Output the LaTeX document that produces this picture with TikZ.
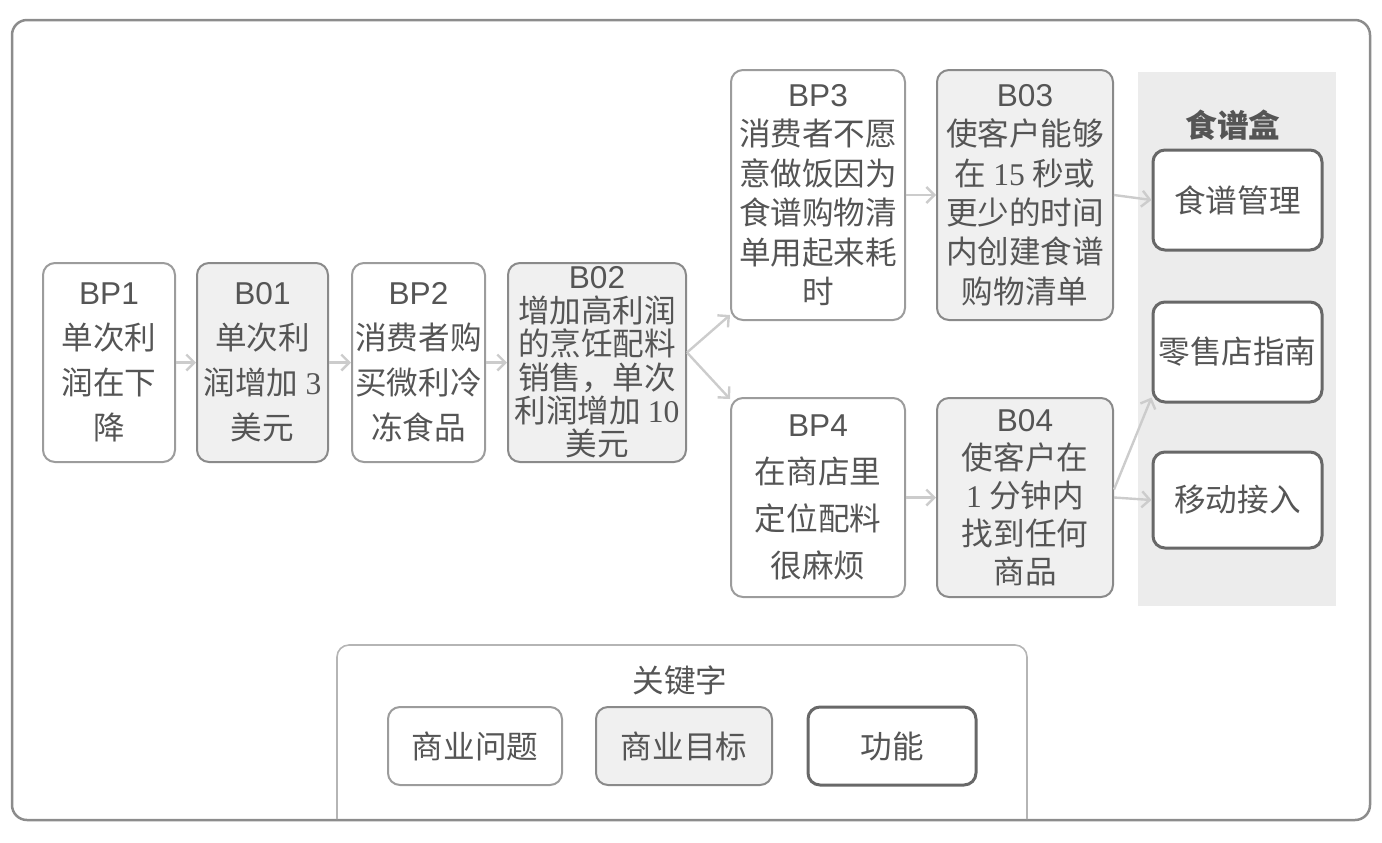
\documentclass[tikz,border=0pt]{standalone}
\usepackage{fontspec}
\newfontfamily\cjk{Noto Sans CJK SC}
\newfontfamily\lat{Liberation Sans}
\newfontfamily\ser{Liberation Serif}
\usetikzlibrary{arrows.meta}

\definecolor{ink}{HTML}{555555}
\definecolor{probline}{HTML}{9C9C9C}
\definecolor{goalline}{HTML}{8A8A8A}
\definecolor{goalfill}{HTML}{F0F0F0}
\definecolor{featline}{HTML}{686868}
\definecolor{framec}{HTML}{8C8C8C}
\definecolor{panelc}{HTML}{ECECEC}
\definecolor{keyline}{HTML}{B5B5B5}
\definecolor{arrowc}{HTML}{CCCCCC}

\newcommand\lab[1]{{\lat #1}}
\newcommand\dg[1]{{\ser #1}}

\tikzset{
  lead/.style={font=\cjk\fontsize{15.8}{#1}\selectfont},
  txt/.style={lead=22.5, text=ink, align=center, inner sep=0pt},
  probbox/.style={txt, draw=probline, line width=1pt, fill=white, rounded corners=6pt},
  goalbox/.style={txt, draw=goalline, line width=1pt, fill=goalfill, rounded corners=6pt},
  featbox/.style={txt, draw=featline, line width=1.5pt, fill=white, rounded corners=6pt},
  flow/.style={draw=arrowc, line width=1.2pt, -{Straight Barb[length=4pt,width=8pt]}},
}

\begin{document}
\begin{tikzpicture}[x=0.5pt, y=-0.5pt]
\useasboundingbox (0,0) rectangle (1382,842);

% outer frame
\draw[framec, line width=1.25pt, rounded corners=7.5pt] (12,20) rectangle (1370,820);

% feature panel
\fill[panelc] (1138,72) rectangle (1336,606);
\node[txt, font=\cjk\bfseries\fontsize{15.8}{20}\selectfont] (panel) at (1233,125) {食谱盒};

% main chain
\node[probbox, minimum width=66pt, minimum height=99.5pt] (bp1) at (109,362.5)
  {\lab{BP1}\\单次利\\润在下\\降};
\node[goalbox, minimum width=65.5pt, minimum height=99.5pt] (b01) at (262.5,362.5)
  {\lab{B01}\\单次利\\润增加 \dg{3}\\美元};
\node[probbox, minimum width=66.5pt, minimum height=99.5pt] (bp2) at (418.5,362.5)
  {\lab{BP2}\\消费者购\\买微利冷\\冻食品};
\node[goalbox, lead=16.7, minimum width=89pt, minimum height=99.5pt] (b02) at (597,362.5)
  {\lab{B02}\\增加高利润\\的烹饪配料\\销售，单次\\利润增加 \dg{10}\\美元};

% upper branch
\node[probbox, lead=19.7, minimum width=87pt, minimum height=125pt] (bp3) at (818,195)
  {\lab{BP3}\\消费者不愿\\意做饭因为\\食谱购物清\\单用起来耗\\时};
\node[goalbox, lead=19.7, minimum width=88pt, minimum height=125pt] (b03) at (1025,195)
  {\lab{B03}\\使客户能够\\在 \dg{15} 秒或\\更少的时间\\内创建食谱\\购物清单};

% lower branch
\node[probbox, lead=23.5, minimum width=87pt, minimum height=99.5pt] (bp4) at (818,497.5)
  {\lab{BP4}\\在商店里\\定位配料\\很麻烦};
\node[goalbox, lead=19, minimum width=88pt, minimum height=99.5pt] (b04) at (1025,497.5)
  {\lab{B04}\\使客户在\\\dg{1} 分钟内\\找到任何\\商品};

% features
\node[featbox, minimum width=84.5pt, minimum height=50pt] (f1) at (1237.5,200) {食谱管理};
\node[featbox, minimum width=84.5pt, minimum height=50pt] (f2) at (1237.5,352) {零售店指南};
\node[featbox, minimum width=84.5pt, minimum height=48pt] (f3) at (1237.5,500) {移动接入};

% connectors
\draw[flow] (bp1) -- (b01);
\draw[flow] (b01) -- (bp2);
\draw[flow] (bp2) -- (b02);
\draw[flow] ([yshift=5pt]b02.east) -- ([yshift=3pt]bp3.south west);
\draw[flow] ([yshift=5pt]b02.east) -- ([yshift=-1pt]bp4.north west);
\draw[flow] (bp3.east) -- (b03.west);
\draw[flow] (bp4.east) -- (b04.west);
\draw[flow] (b03.east) -- (f1.west);
\draw[flow] ([yshift=4pt]b04.east) -- ([yshift=3pt]f2.south west);
\draw[flow] (b04.east) -- (f3.west);

% key
\draw[keyline, line width=0.8pt, rounded corners=6pt] (337,819) -- (337,645) -- (1027,645) -- (1027,819);
\node[txt] (keytitle) at (680,680) {关键字};
\node[probbox, minimum width=87pt, minimum height=39pt] (k1) at (475,746) {商业问题};
\node[goalbox, minimum width=88pt, minimum height=39pt] (k2) at (684,746) {商业目标};
\node[featbox, minimum width=84pt, minimum height=39pt] (k3) at (892,746) {功能};
\end{tikzpicture}
\end{document}
